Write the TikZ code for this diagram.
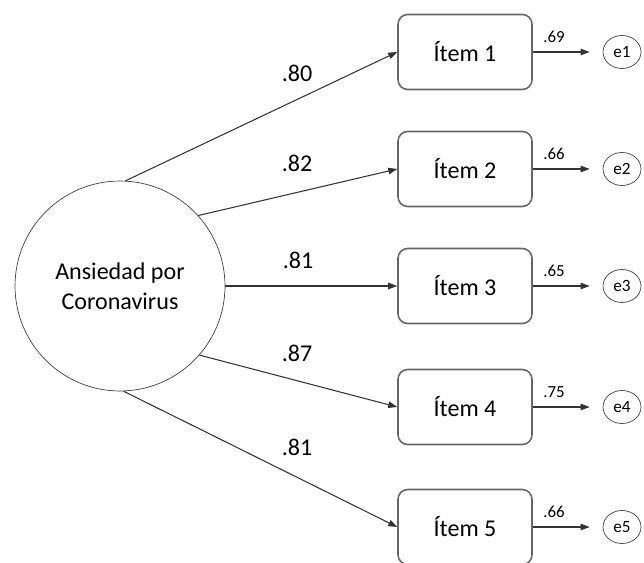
\documentclass[tikz,border=0pt]{standalone}
\usepackage{fontspec}
\setmainfont{Carlito}
\usepackage{tikz}
\usetikzlibrary{shapes,arrows.meta,positioning,calc}

\begin{document}
\begin{tikzpicture}[x=0.02cm,y=-0.02cm,
    latent/.style={draw=black!75, circle, minimum size=4.2cm, inner sep=0pt, align=center, font=\fontsize{13.7}{17}\selectfont},
    item/.style={draw=black!60, line width=0.9pt, rounded corners=5.5pt, minimum width=2.68cm, minimum height=1.5cm, font=\fontsize{13.7}{16}\selectfont},
    err/.style={draw=black!75, ellipse, minimum width=0.76cm, minimum height=0.66cm, inner sep=0pt, font=\fontsize{9.8}{11}\selectfont},
    load/.style={-{Triangle[length=0.18cm,width=0.13cm]}, draw=black!80, line width=0.6pt},
    lbl/.style={font=\fontsize{13.7}{16}\selectfont},
    sml/.style={font=\fontsize{9.6}{11}\selectfont}]
    \useasboundingbox (0,0) rectangle (644,563);

    % Factor
    \node[latent] (anx) at (120,286) {Ansiedad por\\Coronavirus};

    % Items
    \node[item] (it1) at (465,52) {Ítem 1};
    \node[item] (it2) at (465,169) {Ítem 2};
    \node[item] (it3) at (465,286) {Ítem 3};
    \node[item] (it4) at (465,407) {Ítem 4};
    \node[item] (it5) at (465,527) {Ítem 5};

    % Errors
    \node[err] (e1) at (622,52) {e1};
    \node[err] (e2) at (622,169) {e2};
    \node[err] (e3) at (622,286) {e3};
    \node[err] (e4) at (622,407) {e4};
    \node[err] (e5) at (622,527) {e5};

    % Loadings
    \draw[load] (anx.87) -- (it1.west);
    \draw[load] (anx.42) -- (it2.west);
    \draw[load] (anx.east) -- (it3.west);
    \draw[load] (anx.-41) -- (it4.west);
    \draw[load] (anx.-88) -- (it5.west);
    \node[lbl] (l1) at (297,73) {.80};
    \node[lbl] (l2) at (297,163) {.82};
    \node[lbl] (l3) at (298,260) {.81};
    \node[lbl] (l4) at (297,353) {.87};
    \node[lbl] (l5) at (297,447) {.81};

    % Item to error
    \draw[load, shorten >=0.26cm] (it1) -- (e1);
    \draw[load, shorten >=0.26cm] (it2) -- (e2);
    \draw[load, shorten >=0.26cm] (it3) -- (e3);
    \draw[load, shorten >=0.26cm] (it4) -- (e4);
    \draw[load, shorten >=0.26cm] (it5) -- (e5);
    \node[sml] (r1) at (554,37) {.69};
    \node[sml] (r2) at (554,154) {.66};
    \node[sml] (r3) at (554,271) {.65};
    \node[sml] (r4) at (554,392) {.75};
    \node[sml] (r5) at (554,512) {.66};
\end{tikzpicture}
\end{document}
